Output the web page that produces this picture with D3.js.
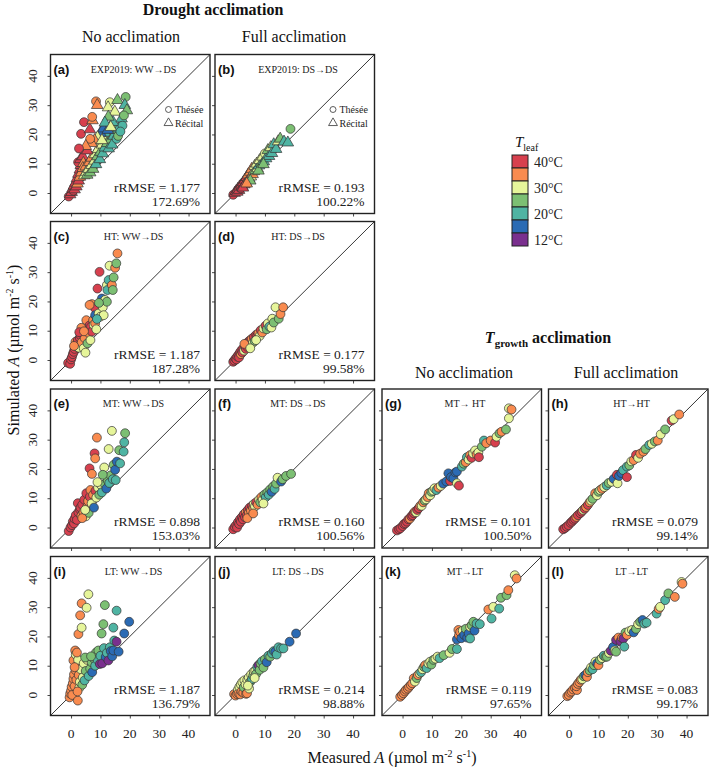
<!DOCTYPE html>
<html><head><meta charset="utf-8">
<script src="https://cdn.jsdelivr.net/npm/d3@7/dist/d3.min.js"></script>
<style>body{margin:0;background:#fff}svg{display:block}</style>
</head><body>
<svg id="chart" width="709" height="768"></svg>
<script>
// ---------- data ----------
const tempColors = ["#d7404e","#f98b4f","#e6f59a","#7cbf73","#4fb4a3","#2b6bb4","#7a2f8e"];
const tempLabels = ["40°C","","30°C","","20°C","","12°C"];
const tickValues = [0,10,20,30,40];
const axisDomain = [-7, 47.3];

const panelIds   = ["a","b","c","d","e","f","g","h","i","j","k","l"];
const subtitles  = ["EXP2019:  WW→DS","EXP2019:  DS→DS","HT:  WW→DS","HT: DS→DS","MT:  WW→DS","MT:  DS→DS","MT→ HT","HT→HT","LT:  WW→DS","LT:  DS→DS","MT→LT","LT→LT"];
const rmseValues = ["1.177","0.193","1.187","0.177","0.898","0.160","0.101","0.079","1.187","0.214","0.119","0.083"];
const pctValues  = ["172.69%","100.22%","187.28%","99.58%","153.03%","100.56%","100.50%","99.14%","136.79%","98.88%","97.65%","99.17%"];
const cultivars  = ["Thésée","Récital"];

// [measured, simulated, colour index, shape(0 circle,1 triangle)]
const ptsA = [[-0.8,-1.2,0,0],[-0.3,-0.5,0,1],[0.2,0.3,0,1],[0.5,1.5,0,1],[0.8,0.8,0,0],[1,2.5,0,1],[1.2,1.2,0,1],[1.5,3.5,0,1],[1.8,2.2,0,1],[2,5,0,1],[2.2,3.2,1,1],[2.5,6.5,0,1],[2.6,4.2,0,1],[3,8,0,1],[3,5.5,1,1],[3.3,9.5,0,1],[3.5,7,1,1],[2.4,10.5,0,0],[3.2,11.5,0,1],[4,12.5,0,1],[4.2,10.2,1,1],[4,8.5,1,1],[4.5,6,2,1],[5,9,1,1],[5.2,7.2,2,1],[5.5,6.2,3,1],[6,8.2,2,1],[6.2,10.5,1,1],[6.5,7,3,1],[7,9.5,2,1],[7,12,1,1],[7.5,8.2,3,1],[8,11,2,1],[8.2,13.2,2,1],[8.5,9.8,4,1],[9,12.5,3,1],[9.2,15,2,1],[9.8,11.5,4,1],[10,14,3,1],[10.5,16.5,2,1],[10.8,13.5,4,1],[11.2,18,3,1],[11.5,15.5,4,1],[12,19.5,2,1],[12.3,17,3,1],[12.8,15.2,4,1],[13,20.5,4,1],[13.5,18.2,3,1],[14,16.5,4,1],[14.5,19.5,4,1],[15,21.5,3,1],[15.5,18.5,4,0],[16.2,22,4,1],[16,19.5,3,0],[10,20.5,5,1],[11,22,5,1],[12.5,21.5,5,1],[9,19,2,1],[8,18,1,1],[7,17,1,1],[6.5,18.5,1,0],[5.5,14.5,0,1],[5,16,1,1],[2.7,15.2,0,0],[3.4,20.2,0,0],[6.4,21.7,0,1],[4.4,24.2,0,0],[7.3,24.8,1,1],[7.2,26,1,0],[8.5,31.3,1,0],[8.9,30,1,1],[13.2,31,2,0],[12.6,29.2,2,1],[15.8,31.7,3,1],[18.6,32.8,3,0],[18.3,30,4,1],[14.3,24.2,4,1],[14.9,27.7,2,1],[12.7,26,3,1],[17.2,25.4,4,1],[19,28.2,3,1],[17.5,23,4,0],[18,26.5,3,0],[11.5,24,4,1],[13.5,22.5,2,1],[16.8,21,4,0],[10.5,18,2,1]];
const ptsB = [[-0.8,-0.6,0,0],[-0.3,0,0,1],[0.2,0.6,0,1],[0.6,0.4,0,1],[0.8,1.4,0,1],[1.2,1,0,1],[1.4,2.2,0,1],[1.8,1.6,0,0],[2,2.8,0,1],[2.3,2.2,0,1],[2.6,3.6,0,1],[3,2.9,0,1],[3.2,4.5,0,1],[3.5,3.6,1,1],[3.8,5.4,0,1],[4,4.4,1,1],[4.3,6.3,1,1],[4.6,5,0,1],[5,7.2,1,1],[5.2,5.6,2,1],[5.5,8.2,1,1],[5.8,6.4,1,1],[6.2,7.4,2,1],[6.5,9.2,2,1],[6.8,7.8,3,1],[7.2,10,2,1],[7.5,8.4,2,1],[8,9.4,4,1],[8.2,11.2,2,1],[8.8,10.2,3,1],[9.2,12.4,2,1],[9.6,10.8,4,1],[10,13.5,2,0],[10.4,11.8,4,1],[11,14.6,3,1],[11.4,12.6,4,1],[12,15.6,2,1],[12.4,13.6,4,1],[13,16.6,4,1],[13.8,15,4,1],[14.5,17.6,2,1],[15.2,18.5,3,1],[16.5,17.5,4,1],[17.8,17.2,4,1],[18.7,21.9,3,0],[5,4.2,3,1],[7.8,7.6,3,1],[9.5,9.8,3,1],[2.5,1.8,0,1],[3.8,3.2,1,1]];
const ptsC = [[-1,-1,0],[-0.3,-1.3,0],[0,0.2,0],[0.3,1,0],[0.6,2,0],[0.9,2.8,0],[1.2,3.8,0],[1.5,6.2,1],[1.8,4.6,0],[2,5.5,0],[2.3,6.8,0],[2.6,4.2,2],[3,7.5,0],[3.2,8.5,0],[3.6,6,1],[4,9,0],[4.3,4,2],[4.6,7.5,1],[4.9,2.5,2],[5.2,13.6,1],[5.5,10.8,0],[5.6,5.7,3],[6,9.2,1],[6.3,11.8,0],[6.6,6.8,2],[6.8,11.4,0],[7.1,9.7,0],[7.1,19.1,1],[7.5,13.6,1],[7.7,12,2],[8.2,12.5,1],[8.2,17.6,0],[8.2,15.3,5],[8.6,10.5,2],[9,24.4,0],[9.4,15.9,2],[9.7,30.1,0],[10,14.8,2],[10.5,21,5],[10.8,18,2],[11.1,15.3,2],[11.6,20.5,2],[12.2,19.9,3],[12.2,25.6,2],[12.4,23.9,4],[12.8,27.3,4],[13.1,32.2,2],[13.9,25.6,1],[14.2,23.9,3],[14.5,28.2,3],[15,31.5,1],[15.4,33,3],[15.8,36.4,1],[6.3,18.8,1],[3.5,11,1],[2.8,9.5,0],[1,4.8,1],[4.4,9.8,1],[8.8,14,4],[9.5,19.5,3]];
const ptsD = [[-0.8,-0.6,0],[-0.4,-0.2,0],[0,0.5,0],[0.3,0.2,0],[0.6,1.2,0],[1,1.8,0],[1.2,0.9,0],[1.5,2.6,0],[1.8,2,1],[2,3.3,0],[2.3,2.6,0],[2.6,4,0],[2.9,3.2,2],[3.2,4.8,0],[3.5,3.8,0],[3.8,5.5,1],[4,4.5,0],[4.3,6.2,0],[4.6,5,2],[5,6.8,0],[5.5,7.2,1],[5.8,5.8,2],[6.2,7.8,0],[6.5,6.5,3],[7,8.6,0],[7.4,8.3,0],[7.8,9.2,1],[8.2,8.2,2],[8.6,10.2,0],[9.1,9.4,1],[9.5,10.8,2],[10.2,11.7,0],[10.6,10.5,3],[11,12.5,2],[11.5,11.4,4],[12.2,11.1,2],[12.5,14.1,2],[13,12.8,3],[13.6,18,2],[14.7,14.1,3],[15.3,15.7,1],[16.2,18,1],[3,5.5,1],[5,4,2],[7,6.8,2]];
const ptsE = [[-0.8,-1.2,0],[-0.2,0,0],[0.3,0.8,0],[0.6,2,0],[1,1.4,0],[1.2,3,0],[1.6,4.2,0],[2,2.6,0],[2.3,8.3,0],[2.5,5.2,0],[3,6.2,0],[3.2,6.8,0],[3.5,4,1],[3.8,7.8,0],[4.2,5.2,1],[4.5,9.5,0],[5,3.8,2],[5.2,11.7,0],[5.5,7,1],[5.8,9,1],[6,5,3],[6.3,20.2,0],[6.4,10.5,0],[6.6,12.8,1],[7,8.2,2],[7.1,18.3,1],[7.5,11.2,1],[7.8,6.8,5],[8,25.3,0],[8.2,23.6,1],[8.3,12.5,0],[8.6,10.2,2],[8.8,30.7,1],[9.2,13.6,2],[9.6,11.2,3],[10.2,14.5,2],[10.5,12,4],[11.3,20.5,2],[11.5,14.8,3],[12,13.3,5],[12.5,16,3],[12.8,26.8,2],[13,15.2,4],[13.5,17.8,3],[13.9,33,2],[14.2,16.5,4],[14.5,21.4,3],[15,19.7,5],[15.2,16.2,4],[15.6,22.5,5],[16.4,26.4,3],[16.7,21.9,4],[17.9,25.9,4],[18.1,29.1,4],[18.4,32.2,3],[3.8,3.2,1],[4.8,6,2],[9,15.5,2],[10.8,18,3]];
const ptsF = [[-0.8,-0.6,0],[-0.3,0.2,0],[0.2,0.8,0],[0.5,0,0],[0.8,1.8,0],[1.2,1.2,0],[1.5,2.8,0],[1.8,2,0],[2.2,3.6,0],[2.5,2.8,0],[2.8,4.5,0],[3.2,3.5,0],[3.5,5.2,1],[3.8,4.2,0],[4.2,6,0],[4.5,5,1],[4.8,6.8,0],[5.2,5.8,1],[5.6,7.4,0],[6,6.6,1],[6.2,8,2],[6.6,7.2,2],[7,8.6,0],[7.5,7.8,1],[8,9.5,2],[8.4,8.6,3],[8.8,10.4,1],[9.2,9.4,2],[9.8,11.2,3],[10.3,10.4,4],[10.8,12,3],[11.3,11.2,4],[11.8,13,3],[12.3,12.2,5],[12.8,14,3],[13.3,13.2,4],[13.8,15,3],[14.3,17,2],[15.5,15.7,5],[16,16.5,3],[17.2,17.6,3],[18.9,18.3,3],[4,3.2,1],[6,4.8,1],[9.5,8.2,2]];
const ptsG = [[-1.9,-1,0],[-1.2,-0.6,0],[-0.7,-0.2,0],[0,0.5,0],[0.5,1.2,0],[1,1.4,0],[1.5,2,0],[2,2.8,0],[2.5,3,1],[3,3.8,0],[3.4,4.2,0],[3.8,4.9,0],[4.2,5.4,1],[4.6,5.2,2],[5,6,0],[5.5,6.6,0],[6,7.4,1],[6.5,7.4,2],[7,8.6,1],[7.5,9.2,3],[8,9.6,2],[8.5,10.4,1],[8.9,11.7,1],[9.4,11,2],[9.8,12.2,3],[10.4,12.6,2],[10.9,13.4,2],[11.5,12.8,4],[12.2,13.6,1],[13,14.2,2],[13.8,15,5],[14.9,15.7,5],[15.6,18.5,5],[16.2,15.9,0],[16.5,17.2,5],[17.3,16.8,5],[18,18.8,5],[18.5,19.1,5],[18.5,15.1,2],[19.2,14.3,0],[20.2,20.8,4],[20.8,21.8,3],[21.5,22.3,1],[21.9,24,4],[22.5,23.2,2],[23,24.7,1],[23.5,23.8,0],[24,25.3,2],[24.7,26.3,2],[25.2,25,1],[25.8,25.6,2],[26,24,0],[27,27.6,3],[27.7,29.7,4],[28.5,28.8,1],[30,29.7,1],[31.5,29,0],[32,31,2],[33,32.2,3],[33.7,32.7,1],[35.2,33.5,3],[36.2,37.3,2],[36.2,40.7,2],[37.1,40.3,1]];
const ptsH = [[-2,-0.6,0],[-1.4,-0.2,0],[-0.8,0.3,0],[-0.2,0.8,0],[0.5,1.6,0],[1,2,0],[1.5,2.6,0],[2,3,0],[2.5,3.6,1],[3,4.2,0],[3.8,4.9,0],[4.3,5.4,0],[4.8,6,2],[5.3,6.4,0],[5.8,7,1],[6.4,7.7,0],[7,8.6,1],[7.5,9.2,2],[8,9.8,3],[8.9,11.7,1],[9.5,11,2],[10,12.2,3],[10.6,12.8,2],[11.2,13.2,1],[12,13.8,2],[12.8,14.4,4],[13.5,15.2,3],[14.5,15.6,2],[15.2,16.6,5],[16.3,18,0],[16.5,15.1,2],[17,17.6,5],[17.8,18.6,5],[18.4,19.6,4],[19.7,17.2,0],[19.7,20.8,4],[20.5,21.2,3],[21.2,22.6,2],[22,23,1],[22.8,24.8,0],[23.5,23.8,2],[24.2,25.2,1],[25.3,25.9,1],[26,26.8,3],[27.3,28.2,4],[28.2,28.6,2],[29.2,29.4,3],[30.2,29.7,1],[31.2,31.8,2],[32.7,33.5,3],[34.9,36.5,0],[35.6,37,2],[37.5,38.6,1]];
const ptsI = [[-0.5,-0.8,1],[-0.3,0.5,1],[0,1.5,1],[0.2,2.8,1],[0.4,0,1],[0.6,4,1],[0.8,5.5,1],[0.8,11.8,1],[1,7,1],[1.2,3,1],[1.4,15.2,1],[1.5,8.5,1],[1.6,13.8,2],[1.8,5.2,1],[2,10,1],[2.3,-1.9,1],[2.4,12,2],[2.5,20.8,1],[2.6,6.8,1],[2.8,2.4,2],[3,4.5,2],[3.1,27.2,1],[3.3,8.8,2],[3.6,23,2],[3.6,31.3,1],[3.8,3.5,3],[4,6,2],[4.3,10.8,2],[4.6,5,4],[5,8.2,3],[5.3,29.8,2],[5.5,12,2],[5.9,34.4,2],[6,6.5,4],[6.5,9,3],[7,11.2,3],[7.2,7.8,5],[7.8,12.4,3],[8.2,10,4],[8.5,14.5,3],[9,12,4],[9.3,15.2,3],[9.8,10.6,6],[10,13.4,4],[10.4,21,3],[10.6,10.8,6],[11,24.2,3],[11.2,16,4],[11.5,30.7,3],[11.8,13,5],[12.2,14.4,4],[12.7,11.8,6],[13.2,16.3,4],[13.5,15,5],[14,13.2,5],[14.4,23,4],[14.4,15.2,5],[14.7,18.6,4],[15.5,18.2,6],[15.5,28.8,4],[16.2,14.8,5],[18.1,21,5],[19.8,25,5],[2,14.5,1],[1.2,9.5,1],[2.2,1.2,1],[4.8,12.8,3],[6.8,13.2,3]];
const ptsJ = [[-0.5,0.3,1],[0,-0.2,1],[0.5,0.3,1],[0.8,1.8,2],[1,0.6,1],[1.3,2.8,2],[1.6,0.2,1],[1.8,3.6,2],[2,1.2,1],[2.3,4.4,2],[2.6,0.8,1],[2.8,2.6,3],[3,5,2],[3.4,3.6,2],[3.6,0.4,1],[3.9,0.6,1],[4,5.2,2],[4.5,6,2],[4.6,2.2,2],[5,4.5,3],[5.3,7,2],[5.6,5.4,4],[6,6.6,3],[6.2,8,2],[6.7,8.2,2],[7,7.2,3],[7.4,9.6,4],[7.8,10.2,6],[8.2,8.6,3],[8.5,10.8,3],[9,11.5,4],[9.5,9.4,3],[10,12.2,3],[10.6,11.2,5],[11.2,13.4,4],[11.8,13.1,3],[12.4,14.2,4],[13,15,4],[13.5,14.8,5],[14,13.8,4],[14.6,16.3,4],[15.5,15.9,4],[16.3,15.9,4],[18.4,18.2,5],[20.6,21,5],[4.2,3.2,2],[6.5,5.8,2]];
const ptsK = [[-0.8,-0.6,1],[-0.2,0,1],[0.3,0.6,1],[0.8,1.2,1],[1.2,1.8,1],[1.8,2.2,1],[2.2,2.8,1],[2.8,3.4,1],[3.3,4,1],[3.8,5.7,1],[4.2,4.6,2],[4.8,5.8,3],[5.2,6.8,1],[5.8,7.4,2],[6.3,7.8,4],[6.8,8.8,2],[7.3,9.6,3],[7.7,10.2,1],[8.2,9.2,4],[8.8,10.8,2],[9.4,11.4,2],[9.8,10.4,3],[10.5,12,3],[11.2,12.4,2],[11.9,13.1,2],[12.6,12.6,4],[14,13.6,3],[16,14.4,2],[16.8,15.7,3],[18.5,15.7,4],[18.5,19,5],[19,22.2,1],[19.2,20.4,1],[19.6,21.5,1],[20,19.4,5],[20.5,22,2],[21,20.5,5],[21.5,22.6,3],[22,19.6,5],[22.5,21,5],[23,23.3,2],[23,19.3,4],[23.5,23.8,3],[24.1,25,3],[24.5,22,5],[25.2,24.4,4],[26.3,24.2,4],[29.2,29.2,1],[30.3,26.1,4],[30.9,30.1,2],[32.9,29.5,4],[33.5,33.2,3],[35.4,34.1,3],[36,35.8,1],[38.2,40.9,2],[38.8,39.8,1]];
const ptsL = [[-0.6,-0.4,1],[-0.1,0,1],[0.4,0.8,1],[0.9,1.2,1],[1.4,1.9,1],[2,2.4,1],[2.7,1.7,1],[2.5,3,1],[3,3.8,1],[3.5,4.4,1],[4,5.2,1],[4.5,5.4,2],[5,6.4,3],[5.5,6.8,5],[6.1,6.2,1],[6.4,7.8,1],[7,8.4,3],[7.5,9.4,2],[8,8.8,4],[8.5,10.2,3],[9,11.4,2],[9.5,10.8,5],[10,10.2,1],[10.5,12,3],[11.2,12.6,2],[11.8,13.4,4],[12.4,13,3],[12.9,13.1,3],[13.6,14.4,2],[14.2,15.1,6],[15,16.4,5],[15.6,15.2,2],[16,14.8,3],[16,18.8,6],[16.8,19.6,1],[17.5,18.4,6],[18,19.5,1],[18.5,19.3,6],[18.8,16.5,4],[19.2,21.3,3],[19.7,20.5,1],[20.5,21.8,2],[21.4,22.2,2],[22,21.4,5],[22.8,22.6,3],[23.5,24.2,2],[24.2,25,3],[25,25.6,5],[25.6,24.4,4],[26.4,24.7,4],[29.8,27.8,4],[30.5,29.4,1],[31,30.1,2],[32.7,32.4,4],[33.8,34.7,3],[36,33.5,1],[38.3,38.6,2],[38.6,38,1]];
const panelPoints = [ptsA,ptsB,ptsC,ptsD,ptsE,ptsF,ptsG,ptsH,ptsI,ptsJ,ptsK,ptsL];

// ---------- layout ----------
const colX = [50.5, 215, 382, 548.5];
const rowY = [54.5, 221.5, 389, 556.5];
const pw = 159.5, ph = 159;
const panelCell = [[0,0],[1,0],[0,1],[1,1],[0,2],[1,2],[2,2],[3,2],[0,3],[1,3],[2,3],[3,3]];
const serif = "'Liberation Serif','Times New Roman',serif";
const sans = "'Liberation Sans',Arial,sans-serif";

const svg = d3.select("#chart");
const x = d3.scaleLinear().domain(axisDomain).range([0, pw]);
const y = d3.scaleLinear().domain(axisDomain).range([ph, 0]);
const sym = d3.symbol();

panelIds.forEach((id, i) => {
  const [c, r] = panelCell[i];
  const g = svg.append("g").attr("transform", `translate(${colX[c]},${rowY[r]})`);
  const ya = d3.axisLeft(y).tickValues(tickValues).tickSize(3).tickFormat("");
  const xa = d3.axisBottom(x).tickValues(tickValues).tickSize(3).tickFormat("");
  const gy = g.append("g").call(ya); gy.select(".domain").remove();
  const gx = g.append("g").attr("transform", `translate(0,${ph})`).call(xa); gx.select(".domain").remove();
  g.selectAll(".tick line").attr("stroke", "#333").attr("stroke-width", 0.9);
  if (c === 0) {
    g.selectAll(".ylab").data(tickValues).join("text")
      .attr("transform", d => `translate(-13.5,${y(d)}) rotate(-90)`)
      .attr("text-anchor", "middle").attr("font-family", serif).attr("font-size", 13.5)
      .attr("fill", "#222").text(d => d);
  }
  if (r === 3) {
    g.selectAll(".xlab").data(tickValues).join("text")
      .attr("x", d => x(d)).attr("y", ph + 22)
      .attr("text-anchor", "middle").attr("font-family", serif).attr("font-size", 13.5)
      .attr("fill", "#222").text(d => d);
  }
  g.append("line").attr("x1", x(axisDomain[0])).attr("y1", y(axisDomain[0]))
    .attr("x2", x(axisDomain[1])).attr("y2", y(axisDomain[1]))
    .attr("stroke", "#222").attr("stroke-width", 0.9);
  g.selectAll("path.pt").data(panelPoints[i]).join("path").attr("class", "pt")
    .attr("transform", d => `translate(${x(d[0])},${y(d[1])})`)
    .attr("d", d => sym.type(d[3] === 1 ? d3.symbolTriangle : d3.symbolCircle).size(d[3] === 1 ? 58 : 62)())
    .attr("fill", d => tempColors[d[2]]).attr("stroke", "#333").attr("stroke-width", 0.7);
  g.append("rect").attr("width", pw).attr("height", ph).attr("fill", "none")
    .attr("stroke", "#222").attr("stroke-width", 1.4);
  g.append("text").attr("x", 3).attr("y", 19).attr("font-family", sans).attr("font-weight", "bold")
    .attr("font-size", 13).attr("fill", "#111").text(`(${id})`);
  g.append("text").attr("x", 83).attr("y", 18).attr("text-anchor", "middle").attr("font-family", serif)
    .attr("font-size", 10).attr("fill", "#222").text(subtitles[i]);
  g.append("text").attr("x", 149.5).attr("y", 137).attr("text-anchor", "end").attr("font-family", serif)
    .attr("font-size", 13.5).attr("fill", "#222").text(`rRMSE = ${rmseValues[i]}`);
  g.append("text").attr("x", 149.5).attr("y", 151).attr("text-anchor", "end").attr("font-family", serif)
    .attr("font-size", 13.5).attr("fill", "#222").text(pctValues[i]);
  if (r === 0) {
    cultivars.forEach((name, k) => {
      g.append("path").attr("transform", `translate(118,${55 + k * 13.5})`)
        .attr("d", sym.type(k === 1 ? d3.symbolTriangle : d3.symbolCircle).size(k === 1 ? 34 : 28)())
        .attr("fill", "none").attr("stroke", "#333").attr("stroke-width", 0.8);
      g.append("text").attr("x", 124.5).attr("y", 58.5 + k * 13.5).attr("font-family", serif)
        .attr("font-size", 10).attr("fill", "#222").text(name);
    });
  }
});

function txt(xp, yp, size, weight, anchor) {
  return svg.append("text").attr("x", xp).attr("y", yp).attr("font-family", serif)
    .attr("font-size", size).attr("font-weight", weight).attr("text-anchor", anchor).attr("fill", "#111");
}
txt(213, 15, 16, "bold", "middle").text("Drought acclimation");
txt(131, 42, 16, "normal", "middle").text("No acclimation");
txt(294, 42, 16, "normal", "middle").text("Full acclimation");
txt(464, 378, 16, "normal", "middle").text("No acclimation");
txt(626, 378, 16, "normal", "middle").text("Full acclimation");
const tg = txt(548, 343, 16, "bold", "middle");
tg.append("tspan").attr("font-style", "italic").text("T");
tg.append("tspan").attr("font-size", 11).attr("dy", 4).text("growth");
tg.append("tspan").attr("dy", -4).text(" acclimation");

const xt = txt(392, 763, 16, "normal", "middle");
xt.append("tspan").text("Measured ");
xt.append("tspan").attr("font-style", "italic").text("A");
xt.append("tspan").text(" (µmol m");
xt.append("tspan").attr("font-size", 10).attr("dy", -6).text("-2");
xt.append("tspan").attr("dy", 6).text(" s");
xt.append("tspan").attr("font-size", 10).attr("dy", -6).text("-1");
xt.append("tspan").attr("dy", 6).text(")");
const yt = svg.append("text").attr("transform", "translate(19,350) rotate(-90)").attr("text-anchor", "middle")
  .attr("font-family", serif).attr("font-size", 16).attr("fill", "#111");
yt.append("tspan").text("Simulated ");
yt.append("tspan").attr("font-style", "italic").text("A");
yt.append("tspan").text(" (µmol m");
yt.append("tspan").attr("font-size", 10).attr("dy", -6).text("-2");
yt.append("tspan").attr("dy", 6).text(" s");
yt.append("tspan").attr("font-size", 10).attr("dy", -6).text("-1");
yt.append("tspan").attr("dy", 6).text(")");

const lg = svg.append("g").attr("transform", "translate(512,155)");
const lt = lg.append("text").attr("x", 3).attr("y", -8).attr("font-family", serif).attr("font-size", 15).attr("fill", "#111");
lt.append("tspan").attr("font-style", "italic").text("T");
lt.append("tspan").attr("font-size", 10).attr("dy", 4).text("leaf");
const boxH = 13;
lg.selectAll("rect").data(tempColors).join("rect")
  .attr("x", 0).attr("y", (d, k) => k * boxH).attr("width", 16).attr("height", boxH)
  .attr("fill", d => d).attr("stroke", "#222").attr("stroke-width", 1);
lg.selectAll("text.lab").data(tempLabels).join("text").attr("class", "lab")
  .attr("x", 22).attr("y", (d, k) => k * boxH + boxH / 2 + 5)
  .attr("font-family", serif).attr("font-size", 14).attr("fill", "#222").text(d => d);
</script>
</body></html>
